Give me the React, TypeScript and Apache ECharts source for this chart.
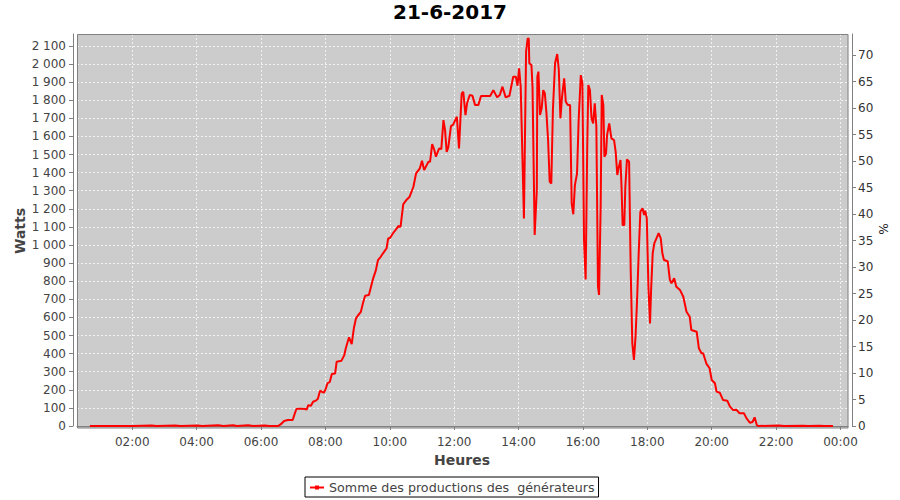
import React, { useEffect, useRef } from "react";
import * as echarts from "echarts";

const FONT = "DejaVu Sans";
const TITLE = "21-6-2017";
const SERIES_NAME = "Somme des productions des  générateurs";
const X_NAME = "Heures";
const Y_NAME = "Watts";
const Y2_NAME = "%";

// time of day of each reading (21-6-2017)
const times = [
  "00:41", "01:20", "02:00", "02:36", "02:45", "03:20", "03:30", "04:02", "04:10", "04:40",
  "04:50", "05:08", "05:15", "05:36", "05:45", "06:07", "06:15", "06:32", "06:37", "06:43",
  "06:50", "06:59", "07:03", "07:06", "07:12", "07:22", "07:25", "07:28", "07:33", "07:37",
  "07:42", "07:46", "07:50", "07:54", "07:57", "08:00", "08:04", "08:08", "08:12", "08:18",
  "08:21", "08:30", "08:35", "08:38", "08:44", "08:49", "08:53", "08:57", "09:01", "09:06",
  "09:10", "09:14", "09:21", "09:25", "09:29", "09:34", "09:38", "09:43", "09:48", "09:54",
  "09:57", "10:00", "10:06", "10:13", "10:16", "10:20", "10:25", "10:31", "10:37", "10:44",
  "10:49", "10:56", "11:00", "11:04", "11:12", "11:15", "11:19", "11:23", "11:26", "11:32",
  "11:36", "11:40", "11:43", "11:46", "11:49", "11:54", "11:58", "12:05", "12:09", "12:14",
  "12:17", "12:21", "12:24", "12:29", "12:34", "12:39", "12:45", "12:50", "13:07", "13:13",
  "13:20", "13:25", "13:30", "13:36", "13:43", "13:50", "13:55", "13:58", "14:01", "14:04",
  "14:10", "14:14", "14:17", "14:19", "14:20", "14:24", "14:26", "14:30", "14:34", "14:35",
  "14:37", "14:40", "14:43", "14:46", "14:49", "14:52", "14:55", "14:58", "15:01", "15:04",
  "15:08", "15:12", "15:15", "15:18", "15:21", "15:25", "15:28", "15:32", "15:36", "15:39",
  "15:42", "15:45", "15:49", "15:52", "15:56", "15:59", "16:02", "16:05", "16:08", "16:10",
  "16:13", "16:16", "16:19", "16:22", "16:25", "16:28", "16:30", "16:33", "16:35", "16:38",
  "16:40", "16:43", "16:45", "16:49", "16:53", "16:58", "17:01", "17:04", "17:07", "17:10",
  "17:12", "17:14", "17:17", "17:19", "17:22", "17:26", "17:29", "17:32", "17:35", "17:38",
  "17:41", "17:44", "17:47", "17:51", "17:54", "17:56", "17:59", "18:02", "18:05", "18:07",
  "18:10", "18:13", "18:17", "18:21", "18:25", "18:28", "18:31", "18:38", "18:42", "18:45",
  "18:50", "18:54", "19:01", "19:07", "19:13", "19:19", "19:22", "19:32", "19:36", "19:41",
  "19:44", "19:50", "19:56", "20:00", "20:06", "20:09", "20:15", "20:21", "20:29", "20:34",
  "20:40", "20:46", "20:52", "21:00", "21:05", "21:11", "21:16", "21:20", "21:24", "21:27",
  "22:05", "22:15", "22:50", "23:00", "23:20", "23:30", "23:46",
];

// production in watts at each time above
const watts = [
  0, 0, 0, 3, 0, 3, 0, 3, 0, 4,
  0, 4, 0, 4, 0, 3, 0, 0, 10, 28,
  33, 33, 70, 94, 96, 94, 90, 115, 112, 134,
  140, 150, 195, 188, 184, 200, 237, 242, 287, 290,
  355, 361, 390, 430, 490, 453, 540, 595, 612, 630,
  680, 720, 724, 770, 816, 860, 917, 935, 957, 982,
  1037, 1037, 1065, 1092, 1105, 1100, 1225, 1249, 1267, 1322,
  1396, 1424, 1466, 1414, 1460, 1460, 1558, 1525, 1488, 1534,
  1530, 1690, 1635, 1515, 1540, 1657, 1665, 1709, 1534, 1838,
  1847, 1718, 1783, 1829, 1825, 1773, 1773, 1823, 1823, 1856,
  1816, 1829, 1875, 1816, 1825, 1930, 1930, 1880, 1976, 1875,
  1147, 2068, 2142, 2140, 2004, 1994, 1875, 1055, 1304, 1930,
  1958, 1718, 1755, 1856, 1838, 1727, 1580, 1350, 1340, 1746,
  2004, 2055, 1967, 1700, 1819, 1921, 1792, 1773, 1773, 1230,
  1170, 1331, 1396, 1690, 1939, 1893, 1028, 810, 1543, 1884,
  1856, 1700, 1672, 1783, 1654, 770, 724, 1212, 1829, 1773,
  1488, 1506, 1608, 1672, 1589, 1580, 1515, 1387, 1433, 1470,
  1313, 1110, 1110, 1322, 1473, 1460, 862, 457, 365, 493,
  705, 963, 1184, 1203, 1166, 1190, 1147, 770, 567, 751,
  954, 1009, 1037, 1065, 1037, 954, 917, 910, 807, 788,
  816, 770, 751, 714, 631, 604, 530, 521, 430, 402,
  402, 345, 319, 254, 236, 190, 184, 144, 140, 107,
  88, 90, 70, 70, 42, 18, 22, 48, 5, 0,
  3, 0, 2, 0, 2, 0, 0,
];

// axis ranges
const X_START = "00:17";
const X_END_NEXT_DAY = "00:14";
const Y_MAX = 2166;
const Y_STEP = 100;
const Y2_MAX = 74;
const Y2_STEP = 5;

const toTs = (t: string, dayOffset = 0) => {
  const [h, m] = t.split(":").map(Number);
  return new Date(2017, 5, 21 + dayOffset, h, m).getTime();
};

const fmtWatts = (v: number) =>
  v >= 1000 ? `${Math.floor(v / 1000)}\u00a0${String(v % 1000).padStart(3, "0")}` : String(v);

export default function App() {
  const ref = useRef<HTMLDivElement>(null);
  useEffect(() => {
    if (!ref.current) return;
    const chart = echarts.init(ref.current, undefined, { renderer: "svg" });
    const data = times.map((t, i) => [toTs(t), watts[i]]);
    const gridLine = { show: true, lineStyle: { color: "#f2f2f2", type: [2, 2], width: 1 } };
    const axisColor = "#808080";
    const twoHours = 2.5 * 3600 * 1000;
    chart.setOption({
      animation: false,
      title: {
        text: TITLE,
        left: "center",
        top: 2,
        padding: 0,
        textStyle: { fontFamily: FONT, fontSize: 20, fontWeight: "bold", color: "#000" },
      },
      grid: { left: 77, right: 52, top: 34, bottom: 74, show: false },
      legend: {
        data: [{ name: SERIES_NAME }],
        left: 305,
        top: 477,
        padding: [4, 4, 3, 4],
        borderColor: "#000",
        borderWidth: 1,
        borderRadius: 0,
        backgroundColor: "#fff",
        itemWidth: 14,
        itemHeight: 5,
        itemGap: 0,
        textStyle: { fontFamily: FONT, fontSize: 12.7, color: "#444" },
      },
      xAxis: {
        type: "time",
        min: toTs(X_START),
        max: toTs(X_END_NEXT_DAY, 1),
        minInterval: twoHours,
        maxInterval: twoHours,
        splitNumber: 10,
        offset: 5,
        axisLine: { show: true, lineStyle: { color: axisColor } },
        axisTick: { show: true, length: 4, lineStyle: { color: axisColor } },
        axisLabel: {
          formatter: "{HH}:{mm}",
          showMinLabel: false,
          showMaxLabel: false,
          hideOverlap: false,
          margin: 5,
          fontFamily: FONT,
          fontSize: 12,
          color: "#444",
        },
        splitLine: gridLine,
      },
      yAxis: [
        {
          type: "value",
          min: 0,
          max: Y_MAX,
          interval: Y_STEP,
          offset: 4,
          axisLine: { show: true, lineStyle: { color: axisColor } },
          axisTick: { show: true, length: 4, lineStyle: { color: axisColor } },
          axisLabel: {
            formatter: fmtWatts,
            showMaxLabel: false,
            margin: 7,
            fontFamily: FONT,
            fontSize: 12,
            color: "#444",
          },
          splitLine: gridLine,
        },
        {
          type: "value",
          position: "right",
          min: 0,
          max: Y2_MAX,
          interval: Y2_STEP,
          offset: 4,
          axisLine: { show: true, lineStyle: { color: axisColor } },
          axisTick: { show: true, length: 4, lineStyle: { color: axisColor } },
          axisLabel: {
            showMaxLabel: false,
            margin: 6,
            fontFamily: FONT,
            fontSize: 12,
            color: "#333",
          },
          splitLine: { show: false },
        },
      ],
      series: [
        {
          name: SERIES_NAME,
          type: "line",
          yAxisIndex: 0,
          data,
          showSymbol: false,
          symbol: "rect",
          symbolSize: 3,
          lineStyle: { color: "#ff0000", width: 2 },
          itemStyle: { color: "#ff0000" },
        },
      ],
      graphic: {
        elements: [
          {
            type: "rect",
            z: -10,
            silent: true,
            shape: { x: 77, y: 34, width: 771, height: 394 },
            style: { fill: "#cccccc" },
          },
          {
            type: "rect",
            z: 10,
            silent: true,
            shape: { x: 77.5, y: 34.5, width: 770.5, height: 393.5 },
            style: { fill: "none", stroke: axisColor, lineWidth: 1 },
          },
          {
            type: "text",
            x: 20,
            y: 231,
            rotation: Math.PI / 2,
            silent: true,
            style: {
              text: Y_NAME,
              fontFamily: FONT,
              fontSize: 14,
              fontWeight: "bold",
              fill: "#444",
              align: "center",
              verticalAlign: "middle",
            },
          },
          {
            type: "text",
            x: 883,
            y: 229,
            rotation: -Math.PI / 2,
            silent: true,
            style: {
              text: Y2_NAME,
              fontFamily: FONT,
              fontSize: 12,
              fill: "#222",
              align: "center",
              verticalAlign: "middle",
            },
          },
          {
            type: "text",
            x: 462,
            y: 460,
            silent: true,
            style: {
              text: X_NAME,
              fontFamily: FONT,
              fontSize: 14,
              fontWeight: "bold",
              fill: "#444",
              align: "center",
              verticalAlign: "middle",
            },
          },
        ],
      },
    });
    return () => chart.dispose();
  }, []);
  return (
    <div
      ref={ref}
      style={{ position: "absolute", left: 0, top: 0, width: 900, height: 500, background: "#fff" }}
    />
  );
}
